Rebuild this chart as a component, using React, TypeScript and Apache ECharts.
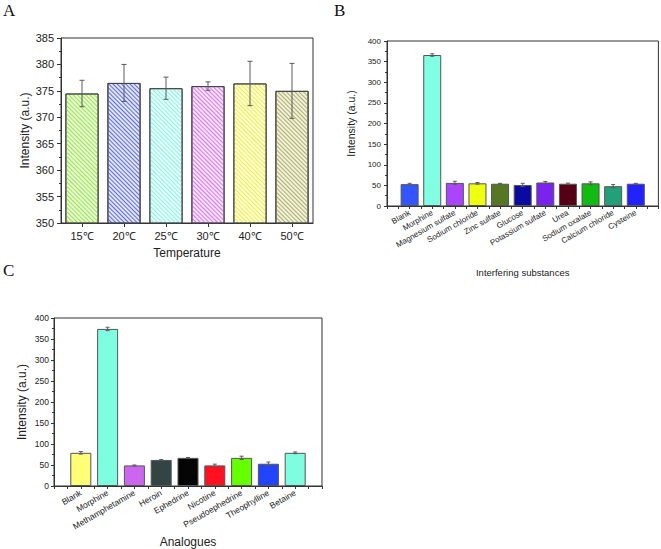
import React, { useEffect, useRef } from 'react';
import * as echarts from 'echarts';

// Panel A: temperature
const tempCategories = ['15℃', '20℃', '25℃', '30℃', '40℃', '50℃'];
const tempValues = [374.5, 376.5, 375.5, 375.9, 376.4, 375.0];
const tempErrors = [2.5, 3.5, 2.1, 0.8, 4.2, 5.2];
const tempFill = ['#eafbd8', '#e2e5fa', '#e6fdf9', '#f7e4fb', '#fdfdda', '#f0f0dc'];
const tempStripe = ['#98e44a', '#5b6be0', '#8ef4e4', '#d873f4', '#efef4a', '#b0b06a'];

// Panel B: interfering substances
const interfNames = ['Blank', 'Morphine', 'Magnesium sulfate', 'Sodium chloride', 'Zinc sulfate', 'Glucose', 'Potassium sulfate', 'Urea', 'Sodium oxalate', 'Calcium chloride', 'Cysteine'];
const interfValues = [53, 366, 56, 55, 54, 51, 57, 54, 55, 48, 54];
const interfErrors = [2, 3, 4, 2, 1, 4, 2.5, 1.5, 3.5, 4, 1];
const interfColors = ['#3355ff', '#80ffe2', '#aa44ff', '#eeff11', '#557722', '#0a0aa0', '#7a22ee', '#550015', '#11bb11', '#22a07a', '#2222ff'];

// Panel C: analogues
const analogueNames = ['Blank', 'Morphine', 'Methamphetamine', 'Heroin', 'Ephedrine', 'Nicotine', 'Pseudoephedrine', 'Theophylline', 'Betaine'];
const analogueValues = [79, 374, 49, 62, 67, 49, 67, 53, 79];
const analogueErrors = [3, 4, 1, 1, 1, 3, 4, 4, 2];
const analogueColors = ['#ffff77', '#7ffde0', '#cc66ee', '#334444', '#050505', '#ff1122', '#66ff00', '#2244ff', '#7ffde0'];

const FONT = '"Liberation Sans", Arial, sans-serif';
const AX = '#333';
const TXT = '#222';

function errorRenderer(capHalf: number) {
  return (params: any, api: any) => {
    const x = api.value(0);
    const y = api.value(1);
    const e = api.value(2);
    const top = api.coord([x, y + e]);
    const bot = api.coord([x, y - e]);
    const style = { stroke: '#5a5a5a', lineWidth: 1, fill: 'none' };
    return {
      type: 'group',
      children: [
        { type: 'line', shape: { x1: top[0], y1: top[1], x2: bot[0], y2: bot[1] }, style },
        { type: 'line', shape: { x1: top[0] - capHalf, y1: top[1], x2: top[0] + capHalf, y2: top[1] }, style },
        { type: 'line', shape: { x1: bot[0] - capHalf, y1: bot[1], x2: bot[0] + capHalf, y2: bot[1] }, style },
      ],
    };
  };
}

function valueCatAxis(gridIndex: number, names: string[], fontSize: number, margin: number) {
  return {
    type: 'value',
    gridIndex,
    min: 0,
    max: names.length + 1,
    interval: 1,
    axisLine: { show: true, lineStyle: { color: AX, width: 1 } },
    axisTick: { show: true, length: 3, lineStyle: { color: AX } },
    minorTick: { show: true, splitNumber: 2, length: 3, lineStyle: { color: AX } },
    splitLine: { show: false },
    axisLabel: {
      formatter: (v: number) => names[Math.round(v) - 1] ?? '',
      rotate: 30,
      fontSize,
      fontFamily: FONT,
      color: TXT,
      margin,
      interval: 0,
    },
  };
}

export default function App() {
  const ref = useRef<HTMLDivElement>(null);
  useEffect(() => {
    if (!ref.current) return;
    const chart = echarts.init(ref.current, undefined, { renderer: 'svg' });
    const option: any = {
      animation: false,
      backgroundColor: '#ffffff',
      grid: [
        { left: 61, top: 38, width: 252, height: 185, show: true, borderColor: AX, borderWidth: 1, backgroundColor: 'transparent' },
        { left: 387, top: 41, width: 272, height: 165, show: true, borderColor: AX, borderWidth: 1, backgroundColor: 'transparent' },
        { left: 54, top: 318, width: 268, height: 168, show: true, borderColor: AX, borderWidth: 1, backgroundColor: 'transparent' },
      ],
      xAxis: [
        {
          type: 'category',
          gridIndex: 0,
          data: tempCategories,
          axisLine: { show: true, lineStyle: { color: AX } },
          axisTick: { show: true, alignWithLabel: true, length: 4, lineStyle: { color: AX } },
          axisLabel: { fontSize: 11, fontFamily: FONT, color: TXT, margin: 7 },
          name: 'Temperature',
          nameLocation: 'middle',
          nameGap: 24,
          nameTextStyle: { fontSize: 12, fontFamily: FONT, color: TXT },
        },
        {
          ...valueCatAxis(1, interfNames, 8, 6),
          name: 'Interfering substances',
          nameLocation: 'middle',
          nameGap: 61,
          nameTextStyle: { fontSize: 9.5, fontFamily: FONT, color: TXT },
        },
        {
          ...valueCatAxis(2, analogueNames, 8.5, 6),
          name: 'Analogues',
          nameLocation: 'middle',
          nameGap: 50,
          nameTextStyle: { fontSize: 12, fontFamily: FONT, color: TXT },
        },
      ],
      yAxis: [
        {
          type: 'value',
          gridIndex: 0,
          min: 350,
          max: 385,
          interval: 5,
          axisLine: { show: true, lineStyle: { color: AX } },
          axisTick: { show: true, length: 4, lineStyle: { color: AX } },
          minorTick: { show: true, splitNumber: 2, length: 2, lineStyle: { color: AX } },
          splitLine: { show: false },
          axisLabel: { fontSize: 11, fontFamily: FONT, color: TXT, margin: 7 },
          name: 'Intensity (a.u.)',
          nameLocation: 'middle',
          nameGap: 30,
          nameTextStyle: { fontSize: 12, fontFamily: FONT, color: TXT },
        },
        {
          type: 'value',
          gridIndex: 1,
          min: 0,
          max: 400,
          interval: 50,
          axisLine: { show: true, lineStyle: { color: AX } },
          axisTick: { show: true, length: 3, lineStyle: { color: AX } },
          minorTick: { show: true, splitNumber: 2, length: 2, lineStyle: { color: AX } },
          splitLine: { show: false },
          axisLabel: { fontSize: 8, fontFamily: FONT, color: TXT, margin: 6 },
          name: 'Intensity (a.u.)',
          nameLocation: 'middle',
          nameGap: 31,
          nameTextStyle: { fontSize: 10.5, fontFamily: FONT, color: TXT },
        },
        {
          type: 'value',
          gridIndex: 2,
          min: 0,
          max: 400,
          interval: 50,
          axisLine: { show: true, lineStyle: { color: AX } },
          axisTick: { show: true, length: 3, lineStyle: { color: AX } },
          minorTick: { show: true, splitNumber: 2, length: 2, lineStyle: { color: AX } },
          splitLine: { show: false },
          axisLabel: { fontSize: 8.5, fontFamily: FONT, color: TXT, margin: 5 },
          name: 'Intensity (a.u.)',
          nameLocation: 'middle',
          nameGap: 26,
          nameTextStyle: { fontSize: 12, fontFamily: FONT, color: TXT },
        },
      ],
      graphic: [
        { type: 'text', left: 3, top: 2, style: { text: 'A', fontSize: 17, fontFamily: '"Liberation Serif", "Times New Roman", serif', fill: '#111' } },
        { type: 'text', left: 334, top: 2, style: { text: 'B', fontSize: 17, fontFamily: '"Liberation Serif", "Times New Roman", serif', fill: '#111' } },
        { type: 'text', left: 3, top: 262, style: { text: 'C', fontSize: 17, fontFamily: '"Liberation Serif", "Times New Roman", serif', fill: '#111' } },
      ],
      series: [
        {
          type: 'bar',
          xAxisIndex: 0,
          yAxisIndex: 0,
          barWidth: '79%',
          data: tempValues.map((v, i) => ({
            value: v,
            itemStyle: {
              color: tempFill[i],
              borderColor: '#444',
              borderWidth: 1,
              decal: {
                symbol: 'rect',
                symbolSize: 1,
                color: tempStripe[i],
                dashArrayX: [1, 0],
                dashArrayY: [1, 1.3],
                rotation: Math.PI / 4,
              },
            },
          })),
        },
        {
          type: 'custom',
          xAxisIndex: 0,
          yAxisIndex: 0,
          z: 5,
          renderItem: errorRenderer(2.5),
          encode: { x: 0, y: 1 },
          data: tempValues.map((v, i) => [i, v, tempErrors[i]]),
        },
        {
          type: 'bar',
          xAxisIndex: 1,
          yAxisIndex: 1,
          barWidth: 18,
          data: interfValues.map((v, i) => ({
            value: [i + 1, v],
            itemStyle: { color: interfColors[i], borderColor: '#555', borderWidth: 1 },
          })),
        },
        {
          type: 'custom',
          xAxisIndex: 1,
          yAxisIndex: 1,
          z: 5,
          renderItem: errorRenderer(2),
          encode: { x: 0, y: 1 },
          data: interfValues.map((v, i) => [i + 1, v, interfErrors[i]]),
        },
        {
          type: 'bar',
          xAxisIndex: 2,
          yAxisIndex: 2,
          barWidth: 21,
          data: analogueValues.map((v, i) => ({
            value: [i + 1, v],
            itemStyle: { color: analogueColors[i], borderColor: '#555', borderWidth: 1 },
          })),
        },
        {
          type: 'custom',
          xAxisIndex: 2,
          yAxisIndex: 2,
          z: 5,
          renderItem: errorRenderer(2),
          encode: { x: 0, y: 1 },
          data: analogueValues.map((v, i) => [i + 1, v, analogueErrors[i]]),
        },
      ],
    };
    chart.setOption(option);
    return () => chart.dispose();
  }, []);
  return (
    <div
      ref={ref}
      style={{ position: 'absolute', left: 0, top: 0, width: 661, height: 549, background: '#fff' }}
    />
  );
}
